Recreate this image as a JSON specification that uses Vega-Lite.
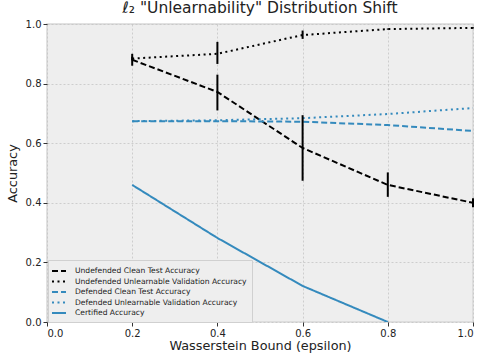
{
  "$schema": "https://vega.github.io/schema/vega-lite/v6.json",
  "width": 426,
  "height": 298,
  "autosize": {"type": "none"},
  "padding": {"left": 47, "top": 24, "right": 11, "bottom": 32},
  "background": "white",
  "config": {
    "font": "DejaVu Sans",
    "view": {"fill": "#eeeeee", "stroke": "#d8d8d8", "strokeWidth": 1.5},
    "axis": {
      "domain": false,
      "grid": true,
      "gridColor": "#c4c4c4",
      "gridDash": [2, 2],
      "gridWidth": 0.8,
      "tickColor": "#333333",
      "tickSize": 4,
      "labelFontSize": 10,
      "labelColor": "#222222",
      "titleFontSize": 12.8,
      "titleFontWeight": "normal",
      "titleColor": "#222222"
    }
  },
  "title": {"text": "ℓ₂ \"Unlearnability\" Distribution Shift", "fontSize": 15.5, "fontWeight": "normal", "color": "#222222", "offset": 3},
  "data": {
    "values": [
      {"series": "Undefended Clean Test Accuracy", "eps": 0.2, "acc": 0.880, "lo": 0.860, "hi": 0.900},
      {"series": "Undefended Clean Test Accuracy", "eps": 0.4, "acc": 0.772, "lo": 0.710, "hi": 0.830},
      {"series": "Undefended Clean Test Accuracy", "eps": 0.6, "acc": 0.584, "lo": 0.474, "hi": 0.694},
      {"series": "Undefended Clean Test Accuracy", "eps": 0.8, "acc": 0.460, "lo": 0.420, "hi": 0.502},
      {"series": "Undefended Clean Test Accuracy", "eps": 1.0, "acc": 0.400, "lo": 0.385, "hi": 0.415},
      {"series": "Undefended Unlearnable Validation Accuracy", "eps": 0.2, "acc": 0.884, "lo": 0.878, "hi": 0.890},
      {"series": "Undefended Unlearnable Validation Accuracy", "eps": 0.4, "acc": 0.900, "lo": 0.866, "hi": 0.940},
      {"series": "Undefended Unlearnable Validation Accuracy", "eps": 0.6, "acc": 0.963, "lo": 0.950, "hi": 0.978},
      {"series": "Undefended Unlearnable Validation Accuracy", "eps": 0.8, "acc": 0.983, "lo": 0.981, "hi": 0.985},
      {"series": "Undefended Unlearnable Validation Accuracy", "eps": 1.0, "acc": 0.987, "lo": 0.985, "hi": 0.989},
      {"series": "Defended Clean Test Accuracy", "eps": 0.2, "acc": 0.674},
      {"series": "Defended Clean Test Accuracy", "eps": 0.4, "acc": 0.674},
      {"series": "Defended Clean Test Accuracy", "eps": 0.6, "acc": 0.672},
      {"series": "Defended Clean Test Accuracy", "eps": 0.8, "acc": 0.661},
      {"series": "Defended Clean Test Accuracy", "eps": 1.0, "acc": 0.641},
      {"series": "Defended Unlearnable Validation Accuracy", "eps": 0.2, "acc": 0.674},
      {"series": "Defended Unlearnable Validation Accuracy", "eps": 0.4, "acc": 0.677},
      {"series": "Defended Unlearnable Validation Accuracy", "eps": 0.6, "acc": 0.684},
      {"series": "Defended Unlearnable Validation Accuracy", "eps": 0.8, "acc": 0.698},
      {"series": "Defended Unlearnable Validation Accuracy", "eps": 1.0, "acc": 0.718},
      {"series": "Certified Accuracy", "eps": 0.2, "acc": 0.460},
      {"series": "Certified Accuracy", "eps": 0.4, "acc": 0.282},
      {"series": "Certified Accuracy", "eps": 0.6, "acc": 0.121},
      {"series": "Certified Accuracy", "eps": 0.8, "acc": 0.0}
    ]
  },
  "layer": [
    {
      "mark": {"type": "line", "strokeWidth": 2, "clip": true},
      "encoding": {
        "x": {"field": "eps", "type": "quantitative", "scale": {"domain": [0, 1]}, "axis": {"title": "Wasserstein Bound (epsilon)", "values": [0, 0.2, 0.4, 0.6, 0.8, 1.0], "format": ".1f", "titlePadding": 1}},
        "y": {"field": "acc", "type": "quantitative", "scale": {"domain": [0, 1]}, "axis": {"title": "Accuracy", "values": [0, 0.2, 0.4, 0.6, 0.8, 1.0], "format": ".1f", "titlePadding": 6}},
        "color": {
          "field": "series", "type": "nominal",
          "scale": {
            "domain": ["Undefended Clean Test Accuracy", "Undefended Unlearnable Validation Accuracy", "Defended Clean Test Accuracy", "Defended Unlearnable Validation Accuracy", "Certified Accuracy"],
            "range": ["#000000", "#000000", "#348ABD", "#348ABD", "#348ABD"]
          },
          "legend": {
            "title": null,
            "orient": "none",
            "legendX": 1,
            "legendY": 236,
            "symbolType": "M-1.4,0L1.4,0",
            "symbolSize": 100,
            "symbolStrokeWidth": 2,
            "labelFontSize": 7.6,
            "labelOffset": 10,
            "labelLimit": 400,
            "labelColor": "#222222",
            "rowPadding": 0.5,
            "padding": 5,
            "fillColor": "#eeeeee",
            "strokeColor": "#d0d0d0"
          }
        },
        "strokeDash": {
          "field": "series", "type": "nominal",
          "scale": {
            "domain": ["Undefended Clean Test Accuracy", "Undefended Unlearnable Validation Accuracy", "Defended Clean Test Accuracy", "Defended Unlearnable Validation Accuracy", "Certified Accuracy"],
            "range": [[6, 3], [2, 3.5], [6, 3], [2, 3.5], [1, 0]]
          }
        }
      }
    },
    {
      "transform": [{"filter": "isValid(datum.lo)"}],
      "mark": {"type": "rule", "strokeWidth": 2, "color": "black"},
      "encoding": {
        "x": {"field": "eps", "type": "quantitative"},
        "y": {"field": "lo", "type": "quantitative"},
        "y2": {"field": "hi"}
      }
    }
  ]
}
